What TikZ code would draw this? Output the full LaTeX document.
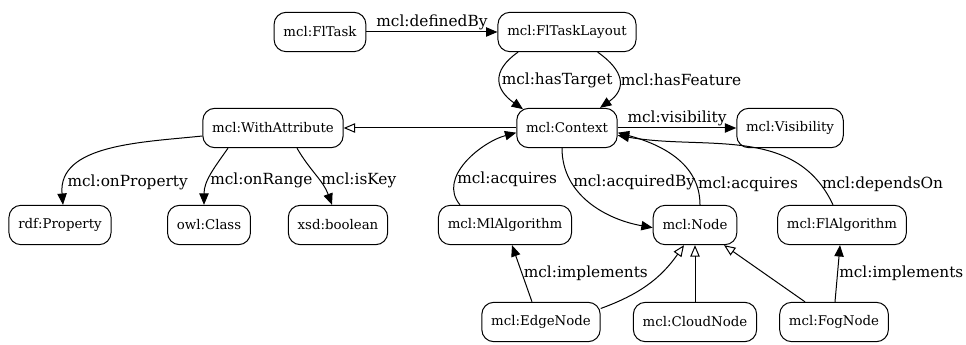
\documentclass[tikz,border=0pt]{standalone}
\usepackage{fontspec}
\setmainfont{DejaVu Serif}
\usetikzlibrary{arrows.meta, positioning}

\begin{document}
\begin{tikzpicture}[x=0.75pt, y=-0.75pt, line width=0.75pt,
  cls/.style={draw, rounded corners=9pt, minimum height=29.5pt, inner xsep=7pt, font=\fontsize{10}{12}\selectfont},
  rel/.style={-{Triangle[length=8.5pt, width=7pt]}},
  isa/.style={-{Triangle[open, length=8.5pt, width=7pt]}},
  lbl/.style={font=\fontsize{11.5}{13}\selectfont, inner sep=1pt}]
  \useasboundingbox (0,0) rectangle (966,345);
  % classes
  \node[cls] (task) at (320,32) {mcl:FlTask};
  \node[cls] (layout) at (567,32) {mcl:FlTaskLayout};
  \node[cls] (attr) at (273,128) {mcl:WithAttribute};
  \node[cls] (ctx) at (567,128) {mcl:Context};
  \node[cls] (vis) at (790,128) {mcl:Visibility};
  \node[cls] (prop) at (60,225) {rdf:Property};
  \node[cls] (owlc) at (209,225) {owl:Class};
  \node[cls] (bool) at (338,225) {xsd:boolean};
  \node[cls] (mla) at (505,225) {mcl:MlAlgorithm};
  \node[cls] (node) at (695,225) {mcl:Node};
  \node[cls] (fla) at (842,225) {mcl:FlAlgorithm};
  \node[cls] (edge) at (541,322) {mcl:EdgeNode};
  \node[cls] (cloud) at (695,322) {mcl:CloudNode};
  \node[cls] (fog) at (834,322) {mcl:FogNode};
  % task layout
  \draw[rel] (task) -- node[lbl, above]{mcl:definedBy} (layout);
  \draw[rel] ([xshift=-36.75pt]layout.south) to[out=215, in=145, looseness=1.5] node[lbl, right]{mcl:hasTarget} ([xshift=-33pt, yshift=-1pt]ctx.north);
  \draw[rel] ([xshift=23pt]layout.south) to[out=-35, in=35, looseness=1.5] node[lbl, right]{mcl:hasFeature} ([xshift=24.75pt]ctx.north);
  % context
  \draw[isa] (ctx) -- (attr);
  \draw[rel] (ctx) -- node[lbl, above]{mcl:visibility} (vis);
  \draw[rel] ([xshift=-3.75pt]ctx.south) to[out=-90, in=170] node[lbl, pos=0.28, right]{mcl:acquiredBy} ([yshift=-2pt]node.west);
  \draw[rel] ([xshift=-33.75pt]mla.north) to[out=130, in=195] node[lbl, pos=0.3, right]{mcl:acquires} ([yshift=-3.5pt]ctx.west);
  \draw[rel] ([xshift=3.75pt]node.north) to[out=90, in=-15] node[lbl, pos=0.18, right]{mcl:acquires} ([yshift=-3.5pt]ctx.east);
  \draw[rel] ([xshift=-6.75pt]fla.north) to[out=115, in=-10] node[lbl, pos=0.1, right]{mcl:dependsOn} ([yshift=-5.5pt]ctx.east);
  % attributes
  \draw[rel] ([yshift=-6pt]attr.west) to[out=186, in=95] node[lbl, pos=0.86, right]{mcl:onProperty} ([xshift=2.25pt]prop.north);
  \draw[rel] ([xshift=-33.75pt]attr.south) to[out=235, in=90] node[lbl, pos=0.6, right]{mcl:onRange} ([xshift=-3.75pt]owlc.north);
  \draw[rel] ([xshift=18pt]attr.south) to[out=-60, in=110] node[lbl, pos=0.6, right]{mcl:isKey} ([xshift=-4.5pt]bool.north);
  % nodes
  \draw[isa] ([yshift=-5pt]edge.north east) to[out=20, in=235] ([xshift=-8.25pt]node.south);
  \draw[isa] (cloud) -- (node);
  \draw[isa] ([xshift=-21.75pt]fog.north) -- ([xshift=-10pt]node.south east);
  \draw[rel] ([xshift=-6.75pt]edge.north) -- node[lbl, right]{mcl:implements} ([xshift=5.25pt]mla.south);
  \draw[rel] ([xshift=0.75pt]fog.north) -- node[lbl, right]{mcl:implements} ([xshift=-1.5pt]fla.south);
\end{tikzpicture}
\end{document}
